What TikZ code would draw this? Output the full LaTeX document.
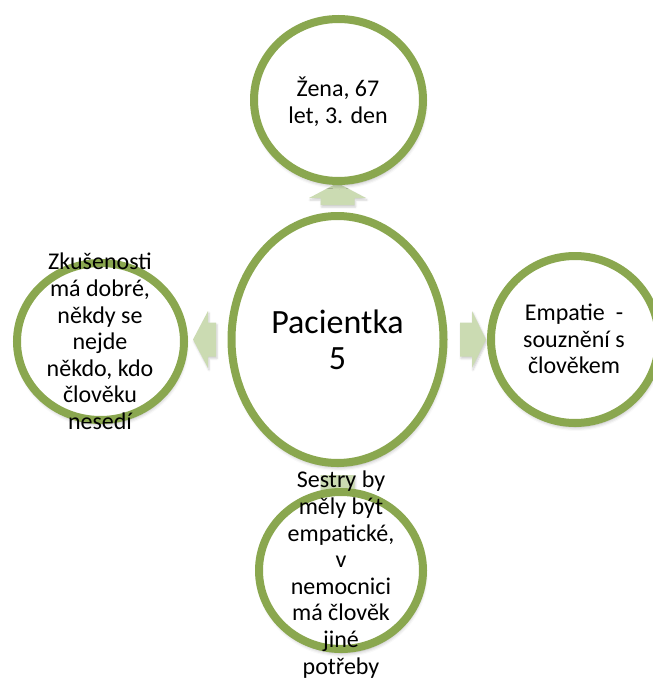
\documentclass[tikz,border=0pt]{standalone}
\usepackage{fontspec}
\setmainfont{Carlito}
\usetikzlibrary{shapes.geometric,calc,shadows.blur,backgrounds}

\definecolor{ringgreen}{RGB}{138,167,79}
\definecolor{arrowgreen}{RGB}{203,219,178}

\tikzset{
  ring/.style={ellipse, draw=ringgreen, line width=8pt, fill=white, inner sep=0pt,
    blur shadow={shadow xshift=1pt, shadow yshift=-4pt, shadow blur radius=4pt, shadow opacity=35}},
  outertext/.style={align=center, font=\fontsize{24}{26.6}\selectfont, text=black},
  centertext/.style={align=center, font=\fontsize{34}{36}\selectfont, text=black},
  blockarrow/.style={fill=arrowgreen, draw=none,
    blur shadow={shadow xshift=1pt, shadow yshift=-2pt, shadow blur radius=2pt, shadow opacity=20}}
}

% block arrow pointing along +x away from the anchor #1, rotated by #2;
% #3 = start of the shaft, #4 = base of the head, #5 = tip
\newcommand{\blockarrowat}[5]{%
  \begin{scope}[shift={(#1)}, rotate=#2]
    \path[blockarrow] (#3,-17) -- (#4,-17) -- (#4,-28.5) -- (#5,0)
      -- (#4,28.5) -- (#4,17) -- (#3,17) -- cycle;
  \end{scope}}

\begin{document}
\begin{tikzpicture}[x=1pt, y=-1pt]
  \useasboundingbox (0,0) rectangle (653,680);

  % rings
  \node[ring, minimum width=212pt, minimum height=247pt] (c) at (337.5,339.5) {};
  \node[ring, minimum width=169pt, minimum height=162pt] (t) at (338.5,100) {};
  \node[ring, minimum width=168pt, minimum height=167pt] (r) at (575,339.5) {};
  \node[ring, minimum width=167pt, minimum height=157pt] (l) at (100.5,341.5) {};
  \node[ring, minimum width=164pt, minimum height=157pt] (b) at (341,570.5) {};

  % block arrows from the centre outwards, behind the outer rings
  \begin{scope}[on background layer]
    \blockarrowat{c.north}{90}{7}{14}{29}
    \blockarrowat{c.east}{0}{12.5}{24.5}{38.5}
    \blockarrowat{c.west}{180}{11.5}{19.5}{34.5}
    \blockarrowat{c.south}{-90}{8}{27}{42}
  \end{scope}

  % texts
  \node[centertext] (ct) at (c) {Pacientka\\5};
  \node[outertext] (tt) at (338,102) {Žena, 67\\let, 3. den};
  \node[outertext] (rt) at (574,339) {Empatie~ -\\souznění s\\člověkem};
  \node[outertext] (lt) at (100,341.5) {Zkušenosti\\má dobré,\\někdy se\\nejde\\někdo, kdo\\člověku\\nesedí};
  \node[outertext] (bt) at (341,574.5) {Sestry by\\měly být\\empatické,\\v\\nemocnici\\má člověk\\jiné\\potřeby};
\end{tikzpicture}
\end{document}
